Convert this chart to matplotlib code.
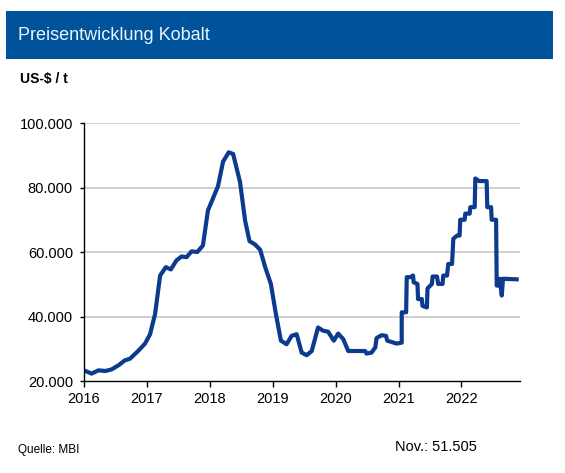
import matplotlib
matplotlib.use("Agg")
import matplotlib.pyplot as plt
from matplotlib.patches import Rectangle

plt.rcParams['font.family'] = ['Liberation Sans', 'DejaVu Sans']

# Zeit als Dezimaljahr, Preis in 1000 US-$/t
jahr = [2016.00, 2016.12, 2016.23, 2016.34, 2016.44, 2016.55, 2016.65, 2016.73,
        2016.86, 2016.97, 2017.05, 2017.13, 2017.21, 2017.30, 2017.38, 2017.47,
        2017.55, 2017.63, 2017.71, 2017.80, 2017.89, 2017.97, 2018.06, 2018.13,
        2018.21, 2018.30, 2018.37, 2018.48, 2018.56, 2018.63, 2018.72, 2018.80,
        2018.88, 2018.97, 2019.05, 2019.13, 2019.22, 2019.30, 2019.38, 2019.46,
        2019.54, 2019.62, 2019.72, 2019.80, 2019.88, 2019.97, 2020.04, 2020.12,
        2020.20, 2020.47, 2020.49, 2020.57, 2020.63, 2020.65, 2020.73, 2020.80,
        2020.82, 2020.92, 2020.97, 2021.05, 2021.05, 2021.12, 2021.13, 2021.19,
        2021.23, 2021.24, 2021.30, 2021.31, 2021.37, 2021.38, 2021.45, 2021.46,
        2021.53, 2021.54, 2021.61, 2021.63, 2021.70, 2021.71, 2021.77, 2021.79,
        2021.85, 2021.87, 2021.93, 2021.97, 2021.98, 2022.05, 2022.06, 2022.13,
        2022.14, 2022.21, 2022.22, 2022.28, 2022.40, 2022.41, 2022.47, 2022.48,
        2022.55, 2022.56, 2022.60, 2022.61, 2022.64, 2022.66, 2022.91]
preis = [23.3, 22.3, 23.3, 23.1, 23.6, 24.9, 26.4, 26.9,
         29.3, 31.6, 34.5, 40.8, 52.7, 55.3, 54.6, 57.4,
         58.6, 58.4, 60.2, 60.0, 62.0, 72.9, 77.1, 80.4,
         88.0, 90.9, 90.4, 81.7, 69.8, 63.4, 62.3, 60.7,
         55.3, 50.1, 40.8, 32.5, 31.4, 34.0, 34.5, 28.8,
         28.0, 29.3, 36.6, 35.6, 35.3, 32.5, 34.7, 33.0,
         29.3, 29.3, 28.5, 28.8, 30.4, 33.3, 34.2, 34.0,
         32.5, 31.9, 31.6, 31.9, 41.3, 41.3, 52.2, 52.2,
         52.7, 50.6, 50.1, 45.4, 45.4, 43.3, 42.8, 48.7,
         50.1, 52.4, 52.4, 50.1, 50.1, 52.7, 52.7, 56.3,
         56.3, 64.1, 65.1, 65.1, 70.0, 70.0, 71.9, 71.9,
         73.9, 73.9, 82.8, 82.0, 82.0, 73.9, 73.9, 70.0,
         70.0, 49.6, 49.6, 51.7, 46.5, 51.7, 51.5]

jahre = [2016, 2017, 2018, 2019, 2020, 2021, 2022]
yticks = [20, 40, 60, 80, 100]
ylabels = ["20.000", "40.000", "60.000", "80.000", "100.000"]

W, H = 565, 473
fig = plt.figure(figsize=(W/100, H/100), dpi=100)

# Kopfzeile
fig.patches.append(Rectangle((6/W, 1-59/H), 547/W, 48/H, transform=fig.transFigure,
                             facecolor='#00539B', edgecolor='none'))
fig.text(18/W, 1-35/H, "Preisentwicklung Kobalt", color='#EAF5FF', fontsize=13,
         va='center', ha='left')
fig.text(20/W, 1-79/H, "US-$ / t", fontsize=10, fontweight='bold', va='center', ha='left')
fig.text(18/W, 1-450/H, "Quelle: MBI", fontsize=8.5, va='center', ha='left')
fig.text(477/W, 1-447/H, "Nov.: 51.505", fontsize=10.5, va='center', ha='right')

ax = fig.add_axes([84/W, 1-381/H, 436/W, 258/H])
ax.plot(jahr, preis, color='#0B3A8E', lw=3, solid_joinstyle='round', solid_capstyle='butt')

ax.set_xlim(2016, 2022.93)
ax.set_ylim(20, 100)
ax.set_xticks(jahre)
ax.set_xticklabels([str(j) for j in jahre])
ax.set_yticks(yticks)
ax.set_yticklabels(ylabels)
for v in yticks[1:]:
    ax.axhline(v, color='#C8C8C8', lw=1.2, zorder=0)

for s in ['top', 'right']:
    ax.spines[s].set_visible(False)
ax.spines['left'].set_linewidth(1.0)
ax.spines['bottom'].set_linewidth(1.0)
ax.tick_params(axis='y', length=3, width=1, pad=5, labelsize=10.5)
ax.tick_params(axis='x', length=4, width=1, pad=4, labelsize=10.5)

fig.savefig("out.png", dpi=100)
